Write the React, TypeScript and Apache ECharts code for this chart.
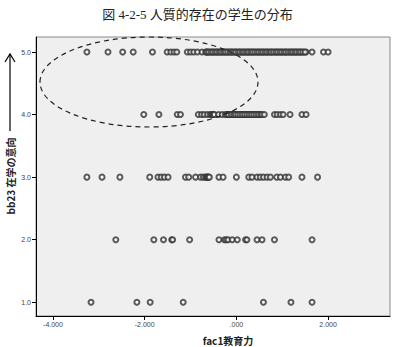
import React, { useEffect, useRef } from "react";
import * as echarts from "echarts";

const titleText = "図 4-2-5 人質的存在の学生の分布";
const xName = "fac1教育力";
const yName = "bb23 在学の意向";
const xTicks = [-4, -2, 0, 2];
const yTicks = [1, 2, 3, 4, 5];

const row5 = [
  -3.26, -2.8, -2.48, -2.25, -1.83, -1.51, -1.43, -1.36, -1.3, -1.07, -1.0, -0.93, -0.85, -0.75, -0.65,
  -0.67, -0.62, -0.58, -0.53, -0.49, -0.44, -0.4, -0.35, -0.31, -0.26, -0.21, -0.17, -0.12, -0.08, -0.03,
  0.01, 0.06, 0.1, 0.15, 0.19, 0.24, 0.28, 0.33, 0.37, 0.42, 0.47, 0.51, 0.56, 0.6, 0.65, 0.69, 0.74,
  0.78, 0.83, 0.88, 0.92, 0.97, 1.01, 1.06, 1.1, 1.15, 1.2, 1.24, 1.29, 1.33, 1.38, 1.42, 1.47, 1.52,
  -0.64, -0.6, -0.55, -0.51, -0.46, -0.42, -0.37, -0.33, -0.28, -0.24, -0.19, -0.14, -0.1, -0.05,
  -0.01, 0.04, 0.08, 0.13, 0.17, 0.22, 0.26, 0.31, 0.35, 0.4, 0.45, 0.49, 0.54, 0.58, 0.63, 0.67,
  0.72, 0.76, 0.81, 0.86, 0.9, 0.95, 0.99, 1.04, 1.08, 1.13, 1.18, 1.22, 1.27, 1.31, 1.36, 1.4, 1.45, 1.5,
  1.65, 1.9, 2.0,
];
const row4 = [
  -2.02, -1.69, -1.29, -1.22, -0.83, -0.76, -0.7, -0.63, -0.57, -0.54, -0.52, -0.5, -0.48, -0.39, -0.31,
  -0.24, -0.19, -0.14, -0.09, -0.04, 0.01, 0.06, 0.11, 0.16, 0.21, 0.26, 0.31, 0.36, 0.41, 0.46, 0.51,
  -0.21, -0.17, -0.11, -0.06, -0.02, 0.03, 0.08, 0.13, 0.18, 0.23, 0.28, 0.33, 0.38, 0.43, 0.48, 0.53,
  0.56, 0.61, 0.83, 0.89, 0.96, 1.02, 1.17, 1.43, 1.52,
];
const row3 = [
  -3.26, -2.93, -2.54, -1.89, -1.71, -1.64, -1.57, -1.49, -1.11, -1.04, -0.89, -0.78, -0.72, -0.67,
  -0.65, -0.63, -0.61, -0.59, -0.38, -0.29, 0.0, 0.27, 0.34, 0.45, 0.52, 0.59, 0.67, 0.74, 0.88, 0.96,
  1.07, 1.14, 1.43, 1.77,
];
const row2 = [
  -2.63, -1.8, -1.59, -1.41, -1.39, -1.02, -0.38, -0.26, -0.22, -0.18, -0.09, 0.02, 0.2, 0.23, 0.45,
  0.56, 0.83, 1.65,
];
const row1 = [-3.17, -2.17, -1.88, -1.16, 0.59, 1.19, 1.65];

const rows: [number, number[]][] = [
  [5, row5],
  [4, row4],
  [3, row3],
  [2, row2],
  [1, row1],
];

export default function App() {
  const ref = useRef<HTMLDivElement>(null);
  useEffect(() => {
    if (!ref.current) return;
    const chart = echarts.init(ref.current, null, { renderer: "svg" });
    const data: number[][] = [];
    rows.forEach(([y, xs]) => xs.forEach((x) => data.push([x, y])));
    const tickFont = { fontSize: 7, color: "#444", fontFamily: "'Liberation Sans', sans-serif" };
    chart.setOption({
      animation: false,
      backgroundColor: "#fff",
      title: {
        text: titleText,
        left: "center",
        top: 3,
        textStyle: {
          fontSize: 13,
          fontWeight: "normal",
          color: "#222",
          fontFamily: "'Liberation Serif', 'Noto Sans CJK JP', serif",
        },
      },
      grid: {
        left: 36,
        top: 37,
        right: 5,
        bottom: 31,
        show: true,
        backgroundColor: "#efefef",
        borderColor: "#8a8a8a",
        borderWidth: 1,
      },
      xAxis: {
        type: "value",
        min: -4.37,
        max: 3.35,
        splitLine: { show: false },
        axisLine: { show: true, onZero: false, lineStyle: { color: "#000", width: 1 } },
        axisTick: { show: true, length: 4, customValues: xTicks, lineStyle: { color: "#000" } },
        axisLabel: {
          customValues: xTicks,
          margin: 5,
          ...tickFont,
          formatter: (v: number) => (v === 0 ? ".000" : v.toFixed(3)),
        },
      },
      yAxis: {
        type: "value",
        min: 0.78,
        max: 5.24,
        splitLine: { show: false },
        axisLine: { show: true, onZero: false, lineStyle: { color: "#000", width: 1 } },
        axisTick: { show: true, length: 4, customValues: yTicks, lineStyle: { color: "#000" } },
        axisLabel: {
          customValues: yTicks,
          margin: 5,
          ...tickFont,
          formatter: (v: number) => v.toFixed(1),
        },
      },
      series: [
        {
          type: "scatter",
          data,
          symbol: "emptyCircle",
          symbolSize: 5,
          itemStyle: { color: "#333", borderColor: "#333", borderWidth: 0.8 },
        },
      ],
      graphic: [
        {
          type: "ellipse",
          shape: { cx: 149, cy: 82, rx: 109, ry: 45 },
          style: { fill: "none", stroke: "#222", lineWidth: 1.2, lineDash: [5, 4] },
          z: 100,
        },
        {
          type: "line",
          shape: { x1: 10, y1: 131, x2: 10, y2: 54 },
          style: { stroke: "#000", lineWidth: 1.2 },
        },
        {
          type: "polyline",
          shape: { points: [[5, 62], [10, 54], [15, 62]] },
          style: { stroke: "#000", lineWidth: 1.2, fill: "none" },
        },
        {
          type: "text",
          x: 10,
          y: 176,
          rotation: Math.PI / 2,
          style: {
            text: yName,
            fontSize: 10,
            fontWeight: "bold",
            fill: "#222",
            align: "center",
            verticalAlign: "middle",
            fontFamily: "'Noto Sans CJK JP', sans-serif",
          },
        },
        {
          type: "text",
          x: 228,
          y: 340,
          style: {
            text: xName,
            fontSize: 10,
            fontWeight: "bold",
            fill: "#222",
            align: "center",
            verticalAlign: "middle",
            fontFamily: "'Noto Sans CJK JP', sans-serif",
          },
        },
      ],
    });
    return () => chart.dispose();
  }, []);
  return (
    <div
      ref={ref}
      style={{ position: "fixed", left: 0, top: 0, width: 395, height: 347 }}
    />
  );
}
